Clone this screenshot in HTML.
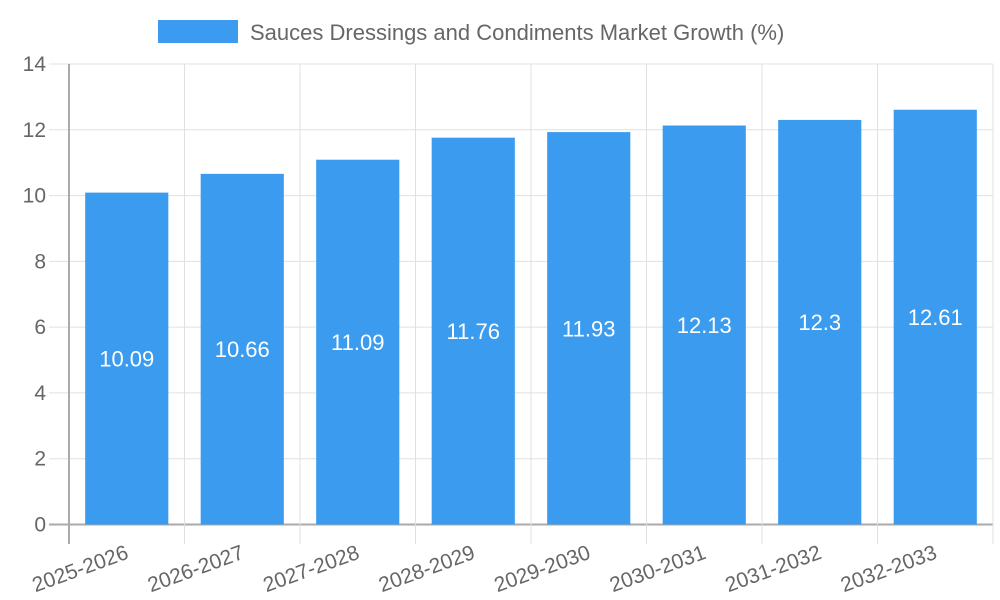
<!DOCTYPE html>
<html><head><meta charset="utf-8"><style>
html,body{margin:0;padding:0;background:#fff;}
svg{display:block;font-family:"Liberation Sans",sans-serif;}
</style></head><body>
<svg id="chart" width="1000" height="600">
<g id="legend">
<rect x="158" y="20" width="80" height="23" fill="#3a9bef"></rect>
<text x="250" y="40" font-size="22" fill="#666">Sauces Dressings and Condiments Market Growth (%)</text>
</g>
<g id="grid"></g><g id="bars"></g><g id="axes"></g>
</svg>
<script>
const categories=["2025-2026","2026-2027","2027-2028","2028-2029","2029-2030","2030-2031","2031-2032","2032-2033"];
const values=[10.09,10.66,11.09,11.76,11.93,12.13,12.3,12.61];
const yTicks=[0,2,4,6,8,10,12,14];
const NS="http://www.w3.org/2000/svg";
const L=69,R=993,T=64,B=524.5,yMax=14;
const bw=(R-L)/categories.length;
const y=v=>B-(v/yMax)*(B-T);
const xc=i=>L+bw*(i+0.5);
function mk(tag,attrs,parent){const e=document.createElementNS(NS,tag);for(const k in attrs)e.setAttribute(k,attrs[k]);parent.appendChild(e);return e;}
const grid=document.getElementById('grid'),bars=document.getElementById('bars'),axes=document.getElementById('axes');
yTicks.forEach(t=>{
 const ln=mk('line',{x1:49,x2:R,y1:y(t),y2:y(t),stroke:t===0?'#aaa':'#e0e0e0','stroke-width':t===0?2:1},grid);
 
 
 const tx=mk('text',{x:46,y:y(t)+7,'text-anchor':'end','font-size':21,fill:'#666'},axes);
 tx.textContent=t;
 
 
});
for(let i=0;i<=categories.length;i++){
 const x=L+bw*i;
 const ln=mk('line',{x1:x,x2:x,y1:T,y2:544,stroke:i===0?'#aaa':'#e0e0e0','stroke-width':i===0?2:1},grid);
 
 
}
categories.forEach((c,i)=>{
 const w=bw*0.72;
 const r=mk('rect',{x:xc(i)-w/2,y:y(values[i]),width:w,height:B-y(values[i]),fill:'#3a9bef'},bars);
 
 
 const v=mk('text',{x:xc(i),y:(y(values[i])+B)/2+8,'text-anchor':'middle','font-size':22,fill:'#fff'},bars);
 v.textContent=values[i];
 
 
 const lb=mk('text',{x:xc(i)+3,y:558,'text-anchor':'end','font-size':21,fill:'#666',transform:`rotate(-20 ${xc(i)+3} 558)`},axes);
 lb.textContent=c;
 
 
});
</script>
</body></html>
